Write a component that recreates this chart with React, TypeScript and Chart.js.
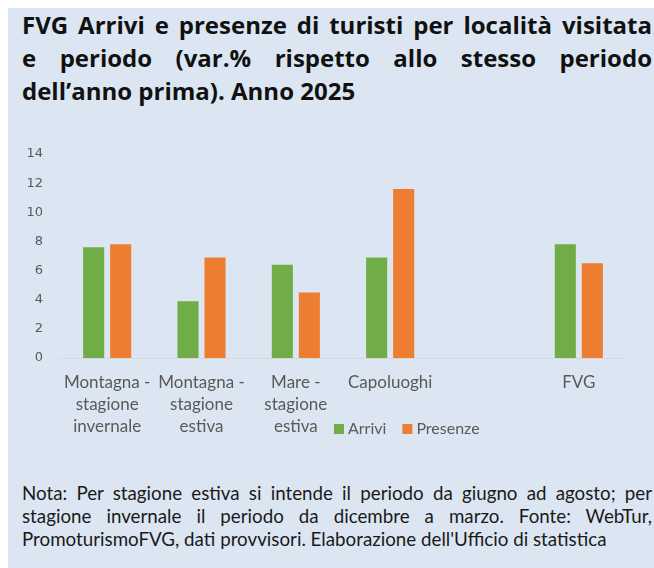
import React, { useEffect, useRef } from "react";
import { Chart, registerables } from "chart.js";

Chart.register(...registerables);

const categories: (string | string[])[] = [
  ["Montagna -", "stagione", "invernale"],
  ["Montagna -", "stagione", "estiva"],
  ["Mare -", "stagione", "estiva"],
  "Capoluoghi",
  "",
  "FVG",
];
const arrivi: (number | null)[] = [7.6, 3.9, 6.4, 6.9, null, 7.8];
const presenze: (number | null)[] = [7.8, 6.9, 4.5, 11.6, null, 6.5];
const seriesNames = ["Arrivi", "Presenze"];
const seriesColors = ["#70AD47", "#ED7D31"];
const yTicks = [0, 2, 4, 6, 8, 10, 12, 14];

const titleLines = [
  "FVG Arrivi e presenze di turisti per località visitata",
  "e periodo (var.% rispetto allo stesso periodo",
  "dell’anno prima). Anno 2025",
];
const noteLines = [
  "Nota: Per stagione estiva si intende il periodo da giugno ad agosto; per",
  "stagione invernale il periodo da dicembre a marzo. Fonte: WebTur,",
  "PromoturismoFVG, dati provvisori. Elaborazione dell'Ufficio di statistica",
];

const FONT = "Lato, 'Noto Sans', sans-serif";
const TITLE_FONT = "'Open Sans', 'Noto Sans', sans-serif";
const TICK_FONT = "'DejaVu Sans', sans-serif";
const GREY = "#595959";

const legendPlugin = {
  id: "customLegend",
  afterDraw(chart: any) {
    const { ctx, chartArea } = chart;
    const x0 = chartArea.left + 274;
    const y0 = chartArea.bottom + 71;
    ctx.save();
    ctx.font = `16px ${FONT}`;
    ctx.textBaseline = "middle";
    ctx.textAlign = "left";
    let x = x0;
    chart.data.datasets.forEach((ds: any) => {
      ctx.fillStyle = ds.backgroundColor;
      ctx.fillRect(x, y0 - 5, 10, 10);
      ctx.fillStyle = GREY;
      ctx.fillText(ds.label, x + 14, y0);
      x += 14 + ctx.measureText(ds.label).width + 16;
    });
    ctx.restore();
  },
};

function BarChart() {
  const ref = useRef<HTMLCanvasElement | null>(null);
  useEffect(() => {
    if (!ref.current) return;
    const chart = new Chart(ref.current, {
      type: "bar",
      data: {
        labels: categories,
        datasets: [
          { label: seriesNames[0], data: arrivi, backgroundColor: seriesColors[0] },
          { label: seriesNames[1], data: presenze, backgroundColor: seriesColors[1] },
        ],
      },
      options: {
        animation: false,
        responsive: false,
        maintainAspectRatio: false,
        layout: { padding: { left: 0, right: 28, top: 14, bottom: 0 } },
        datasets: {
          bar: { categoryPercentage: 0.573, barPercentage: 0.78 },
        },
        plugins: {
          legend: { display: false },
          title: { display: false },
          tooltip: { enabled: false },
        },
        scales: {
          x: {
            grid: { display: false, drawTicks: false },
            border: { display: true, color: "#D9D9D9", width: 1 },
            ticks: {
              color: GREY,
              font: { family: FONT, size: 17, lineHeight: 1.3 },
              padding: 13,
              maxRotation: 0,
              autoSkip: false,
            },
            afterFit(scale: any) {
              scale.height = 92;
            },
          },
          y: {
            min: 0,
            max: 14,
            afterBuildTicks(scale: any) {
              scale.ticks = yTicks.map((v) => ({ value: v }));
            },
            grid: { display: false, drawTicks: false },
            border: { display: false },
            ticks: {
              color: GREY,
              font: { family: TICK_FONT, size: 13 },
              padding: 17,
            },
            afterFit(scale: any) {
              scale.width = 52;
              scale.paddingTop = 0;
              scale.paddingBottom = 0;
            },
          },
        },
      },
      plugins: [legendPlugin],
    });
    return () => chart.destroy();
  }, []);
  return (
    <canvas
      ref={ref}
      width={646}
      height={310}
      style={{ position: "absolute", left: 0, top: 132, width: 646, height: 310 }}
    />
  );
}

export default function App() {
  useEffect(() => {
    document.body.style.margin = "0";
    document.body.style.overflow = "hidden";
  }, []);
  const lineStyle = (justify: boolean): React.CSSProperties => ({
    textAlign: justify ? "justify" : "left",
    textAlignLast: justify ? "justify" : "left",
    whiteSpace: "nowrap",
  });
  return (
    <div style={{ width: 654, height: 568, padding: "8px 0 0 8px", boxSizing: "border-box", overflow: "hidden" }}>
      <div
        style={{
          position: "relative",
          width: 646,
          height: 560,
          background: "#DCE6F2",
          overflow: "hidden",
          fontFamily: FONT,
        }}
      >
        <div
          style={{
            position: "absolute",
            left: 14,
            top: 0,
            width: 630,
            fontFamily: TITLE_FONT,
            fontWeight: 700,
            fontSize: 24,
            lineHeight: "33px",
            color: "#111",
          }}
        >
          {titleLines.map((l, i) => (
            <div key={i} style={lineStyle(i < 2)}>
              {l}
            </div>
          ))}
        </div>
        <BarChart />
        <div
          style={{
            position: "absolute",
            left: 14,
            top: 473,
            width: 630,
            fontSize: 18.75,
            lineHeight: "23px",
            color: "#1a1a1a",
          }}
        >
          {noteLines.map((l, i) => (
            <div key={i} style={lineStyle(i < 2)}>
              {l}
            </div>
          ))}
        </div>
      </div>
    </div>
  );
}
